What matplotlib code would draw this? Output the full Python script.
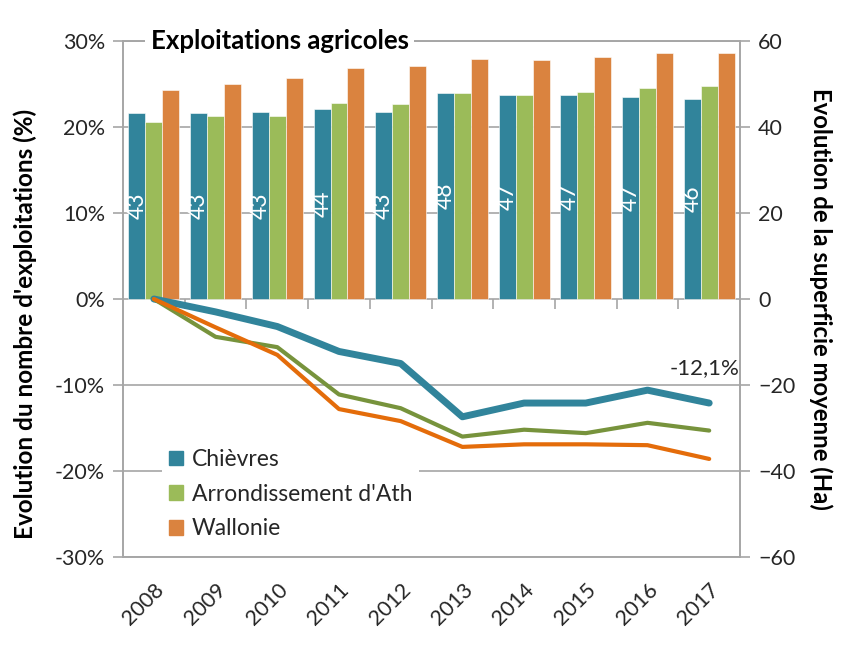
import matplotlib.pyplot as plt
import numpy as np
from matplotlib.patches import Patch

plt.rcParams['font.family'] = ['Lato', 'DejaVu Sans']

years = ['2008', '2009', '2010', '2011', '2012', '2013', '2014', '2015', '2016', '2017']

# superficie moyenne (Ha) - axe de droite
sup_chievres = [43.3, 43.3, 43.4, 44.2, 43.4, 47.8, 47.4, 47.4, 46.9, 46.5]
sup_ath = [41.2, 42.6, 42.6, 45.7, 45.4, 47.8, 47.5, 48.1, 49.0, 49.6]
sup_wallonie = [48.7, 49.9, 51.4, 53.8, 54.1, 55.9, 55.6, 56.2, 57.1, 57.1]

# evolution du nombre d'exploitations (%) - axe de gauche
evo_chievres = [0, -1.5, -3.2, -6.1, -7.5, -13.7, -12.1, -12.1, -10.6, -12.1]
evo_ath = [0, -4.4, -5.6, -11.1, -12.7, -16.0, -15.2, -15.6, -14.4, -15.3]
evo_wallonie = [0, -3.3, -6.5, -12.8, -14.2, -17.2, -16.9, -16.9, -17.0, -18.6]

teal = '#31849B'
green_bar = '#9BBB59'
orange_bar = '#DA833F'
green_line = '#77933C'
orange_line = '#E46C0A'
gray = '#A6A6A6'
txt = '#262626'

fig = plt.figure(figsize=(8.52, 6.49), dpi=100)
ax = fig.add_axes([0.1444, 0.1418, 0.7242, 0.795])
ax2 = ax.twinx()
ax.set_zorder(2)
ax2.set_zorder(1)
ax.patch.set_visible(False)

x = np.arange(len(years))
w = 0.275
b1 = ax2.bar(x - w, sup_chievres, w, color=teal, edgecolor='white', linewidth=0.4)
ax2.bar(x, sup_ath, w, color=green_bar, edgecolor='white', linewidth=0.4)
ax2.bar(x + w, sup_wallonie, w, color=orange_bar, edgecolor='white', linewidth=0.4)
ax2.bar_label(b1, fmt='%.0f', label_type='center', rotation=90, color='white', fontsize=16.5)
ax2.set_ylim(-60, 60)
ax2.set_yticks(range(-60, 61, 20))
ax2.grid(axis='y', color=gray, linewidth=1.2)
ax2.set_axisbelow(True)
ax2.tick_params(axis='y', direction='out', length=7, color=gray, width=1.2,
                labelsize=15.5, labelcolor=txt, pad=6)
ax2.set_ylabel('Evolution de la superficie moyenne (Ha)', fontweight='bold',
               fontsize=17.2, rotation=-90, color='black')
ax2.yaxis.set_label_coords(1.15, 0.50)

ax.plot(x, evo_chievres, color=teal, linewidth=5, solid_capstyle='round', solid_joinstyle='round')
ax.plot(x, evo_ath, color=green_line, linewidth=3, solid_capstyle='round', solid_joinstyle='round')
ax.plot(x, evo_wallonie, color=orange_line, linewidth=3, solid_capstyle='round', solid_joinstyle='round')
ax.annotate(f'{evo_chievres[-1]:.1f}%'.replace('.', ','), (x[-1], evo_chievres[-1]),
            xytext=(-3, 25), textcoords='offset points', ha='center', va='center',
            fontsize=16, color=txt)

ax.set_xlim(-0.5, len(years) - 0.5)
ax.set_ylim(-30, 30)
ax.set_yticks(range(-30, 31, 10))
ax.set_yticklabels([f'{v}%' for v in range(-30, 31, 10)])
ax.tick_params(axis='y', direction='out', length=7, color=gray, width=1.2,
               labelsize=15.5, labelcolor=txt, pad=6)
ax.set_xticks(x)
ax.set_xticklabels(years, rotation=45, ha='right', rotation_mode='anchor')
ax.tick_params(axis='x', length=0, labelsize=15.5, labelcolor=txt, pad=16)
ax.set_ylabel("Evolution du nombre d'exploitations (%)", fontweight='bold',
              fontsize=17.5, color='black')
ax.yaxis.set_label_coords(-0.14, 0.452)

for a in (ax, ax2):
    for s in a.spines.values():
        s.set_color(gray)
        s.set_linewidth(1.2)

# axe des categories a 0
sec = ax.secondary_xaxis(0.5)
sec.set_xticks(x[:-1] + 0.5)
sec.tick_params(axis='x', bottom=True, top=False, labelbottom=False, labeltop=False,
                direction='out', length=7, color=gray, width=1.2)
sec.spines['bottom'].set_color(gray)
sec.spines['top'].set_visible(False)

ax.text(0.045, 1.0, 'Exploitations agricoles', transform=ax.transAxes, ha='left', va='center',
        fontsize=18.5, fontweight='bold', color='black', zorder=5,
        bbox=dict(facecolor='white', edgecolor='none', pad=4))

handles = [Patch(color=teal), Patch(color=green_bar), Patch(color=orange_bar)]
leg = ax.legend(handles, ['Chièvres', "Arrondissement d'Ath", 'Wallonie'],
                loc='upper left', bbox_to_anchor=(0.045, 0.245), fontsize=16.5,
                handlelength=0.6, handleheight=0.6, handletextpad=0.4,
                labelspacing=0.6, frameon=True, fancybox=False, borderpad=0.3)
leg.get_frame().set_edgecolor('none')
leg.get_frame().set_facecolor('white')
leg.get_frame().set_alpha(1)
for t in leg.get_texts():
    t.set_color(txt)

fig.savefig('out.png', dpi=100)
